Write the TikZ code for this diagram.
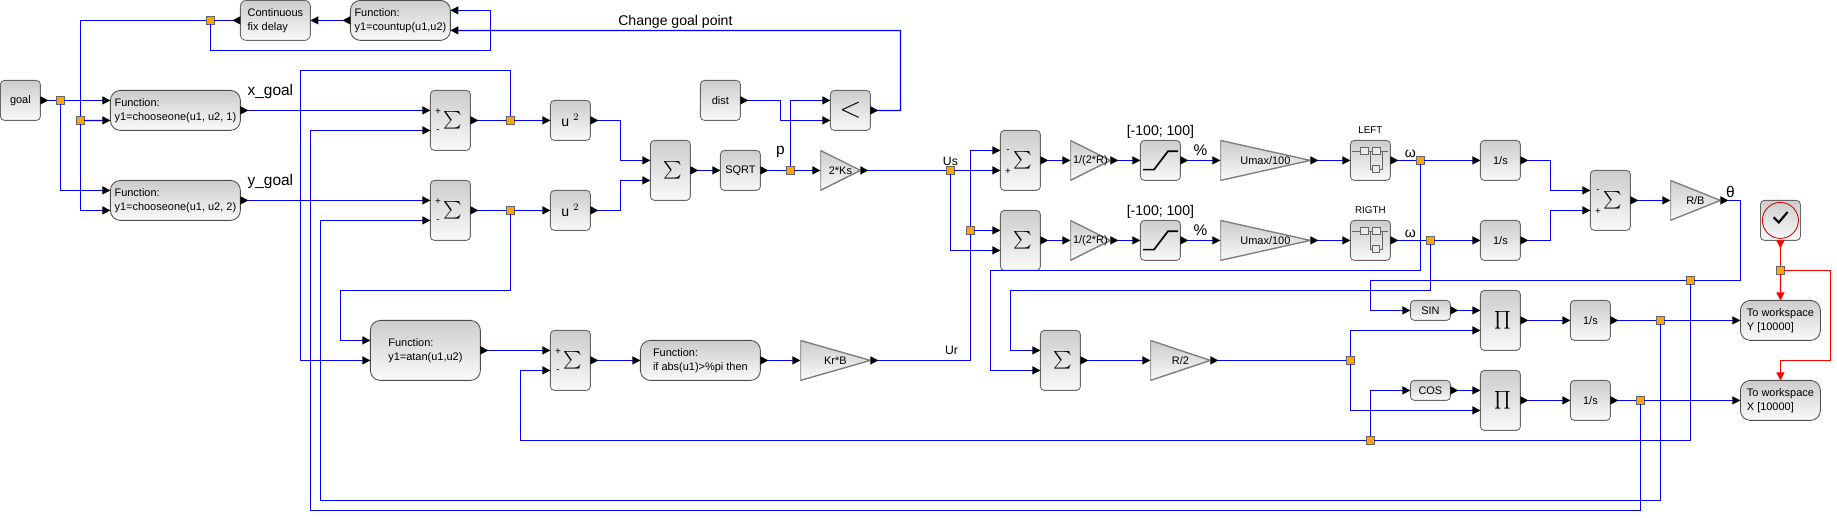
\documentclass[tikz,border=0pt]{standalone}
\usepackage{fontspec}
\setmainfont{Liberation Sans}
\usepackage{tikz}
\usetikzlibrary{arrows.meta, positioning, calc}
\definecolor{splitfill}{HTML}{FFA500}
\newcommand{\sumsign}{\,\scalebox{1.25}{$\sum$}}
\newcommand{\prodsign}{\,\scalebox{1.25}{$\prod$}}

\begin{document}
\begin{tikzpicture}[
    block/.style={rectangle, draw=black!60, line width=0.6pt, rounded corners=1mm, top color=black!20, bottom color=black!2, minimum width=1cm, minimum height=1cm, inner sep=0pt, outer sep=0pt, align=center, font=\fontsize{7.8}{10}\selectfont},
    func/.style={block, draw=black!70, rounded corners=2.5mm, minimum width=#1, align=left},
    tall/.style={block, minimum height=1.5cm, font=\LARGE},
    thin/.style={block, minimum height=0.5cm},
    gain/.style={rectangle, minimum width=#1, minimum height=1cm, inner sep=0pt, outer sep=0pt, font=\fontsize{7.8}{10}\selectfont,
        path picture={
            \shade[top color=black!20, bottom color=black!2] (path picture bounding box.north west) -- (path picture bounding box.east) -- (path picture bounding box.south west) -- cycle;
            \draw[black!50, line width=1pt] (path picture bounding box.north west) -- (path picture bounding box.east) -- (path picture bounding box.south west) -- cycle;
        }},
    satblock/.style={block,
        path picture={
            \draw[black, line width=1.2pt, sharp corners] ([shift={(-0.43,-0.23)}]path picture bounding box.center) -- ++(0.27,0) -- ++(0.35,0.46) -- ++(0.25,0);
        }},
    motorblock/.style={block,
        path picture={
            \draw[black!60, line width=0.5pt, sharp corners] ([shift={(-0.45,0.23)}]path picture bounding box.center) -- ++(0.89,0);
            \draw[black!60, line width=0.5pt, sharp corners] ([shift={(0,0.23)}]path picture bounding box.center) -- ++(0,-0.45) -- ++(0.3,0) -- ++(0,0.45);
            \draw[black!60, line width=0.5pt, fill=black!8, sharp corners] ([shift={(-0.24,0.14)}]path picture bounding box.center) rectangle ++(0.18,0.18);
            \draw[black!60, line width=0.5pt, fill=black!8, sharp corners] ([shift={(0.06,0.14)}]path picture bounding box.center) rectangle ++(0.18,0.18);
            \draw[black!60, line width=0.5pt, fill=black!8, sharp corners] ([shift={(0.05,-0.31)}]path picture bounding box.center) rectangle ++(0.18,0.18);
        }},
    clockblock/.style={block,
        path picture={
            \draw[red!85!black, line width=0.6pt] (path picture bounding box.center) circle (0.45cm);
            \draw[black, line width=1.5pt, sharp corners] ([shift={(-0.17,0.08)}]path picture bounding box.center) -- ++(0.13,-0.13) -- ++(0.22,0.26);
        }},
    split/.style={rectangle, draw=black!60, fill=splitfill, line width=0.5pt, minimum size=0.2cm, inner sep=0pt, outer sep=0pt},
    tag/.style={inner sep=0pt, font=\fontsize{10}{12}\selectfont},
    smalltag/.style={inner sep=0pt, font=\fontsize{7}{9}\selectfont},
    sign/.style={inner sep=0pt, font=\fontsize{7}{8}\selectfont},
    wire/.style={blue, line width=0.85pt},
    linkout/.style={wire, {Triangle[reversed, black, length=2mm, width=2mm]}-},
    linkin/.style={wire, -{Triangle[black, length=2mm, width=2mm]}},
    link/.style={wire, {Triangle[reversed, black, length=2mm, width=2mm]}-{Triangle[black, length=2mm, width=2mm]}},
    event/.style={red, line width=0.85pt},
    eventin/.style={event, -{Triangle[red, length=2mm, width=2mm]}},
    eventout/.style={event, {Triangle[reversed, red, length=2mm, width=2mm]}-}
]
    \useasboundingbox (-0.01,0.01) rectangle (45.915,-12.915);

    % Goal selection
    \node[block] (goal) at (0.5,-2.5) {goal};
    \node[func=3.25cm, right=1.75cm of goal, yshift=-2.5mm] (fnx) {Function:\\y1=chooseone(u1, u2, 1)};
    \node[func=3.25cm, below=1.25cm of fnx] (fny) {Function:\\y1=chooseone(u1, u2, 2)};
    \node[func=2.5cm] (countup) at (10,-0.5) {Function:\\y1=countup(u1,u2)};
    \node[block, rounded corners=1.5mm, align=left, minimum width=1.75cm, left=1cm of countup] (delay) {Continuous\\fix delay};

    % Distance branch
    \node[tall, right=4.75cm of fnx, yshift=-2.5mm] (sumx) {\sumsign};
    \node[tall, below=0.75cm of sumx] (sumy) {\sumsign};
    \node[block, font=\fontsize{10}{12}\selectfont, right=2cm of sumx] (squx) {u $^{2}$};
    \node[block, font=\fontsize{10}{12}\selectfont, right=2cm of sumy] (squy) {u $^{2}$};
    \node[tall, right=1.5cm of squx, yshift=-1.25cm] (sumd) {\sumsign};
    \node[block, right=0.75cm of sumd] (sqrt) {SQRT};
    \node[gain=1cm, right=1.5cm of sqrt] (ks) {2*Ks};
    \node[block, above=0.75cm of sqrt, xshift=-5mm] (dist) {dist};
    \node[block, font=\huge, right=2.25cm of dist, yshift=-2.5mm] (less) {$<$};

    % Heading branch
    \node[func=2.75cm, minimum height=1.5cm] (atan) at (10.625,-8.75) {Function:\\y1=atan(u1,u2)};
    \node[tall, right=1.75cm of atan, yshift=-2.5mm] (sume) {\sumsign};
    \node[func=3cm, right=1.25cm of sume] (ifpi) {Function:\\if abs(u1)>\%pi then};
    \node[gain=1.75cm, right=1cm of ifpi] (krb) {Kr*B};

    % Left and right wheels
    \node[tall, right=3.5cm of ks, yshift=2.5mm] (suml) {\sumsign};
    \node[tall, below=0.5cm of suml] (sumr) {\sumsign};
    \node[gain=1cm, right=0.75cm of suml] (gainl) {1/(2*R)};
    \node[gain=1cm, right=0.75cm of sumr] (gainr) {1/(2*R)};
    \node[satblock, right=0.75cm of gainl] (satl) {};
    \node[satblock, right=0.75cm of gainr] (satr) {};
    \node[gain=2.25cm, right=1cm of satl] (umaxl) {Umax/100};
    \node[gain=2.25cm, right=1cm of satr] (umaxr) {Umax/100};
    \node[motorblock, right=1cm of umaxl] (motl) {};
    \node[motorblock, right=1cm of umaxr] (motr) {};
    \node[block, right=2.25cm of motl] (intl) {1/s};
    \node[block, right=2.25cm of motr] (intr) {1/s};
    \node[tall, right=1.75cm of intl, yshift=-1cm] (sumt) {\sumsign};
    \node[gain=1.25cm, right=1cm of sumt] (rb) {R/B};
    \node[clockblock, right=1cm of rb, yshift=-5mm] (clock) {};

    % Position
    \node[tall, right=4.25cm of krb] (sumv) {\sumsign};
    \node[gain=1.5cm, right=1.75cm of sumv] (rtwo) {R/2};
    \node[tall] (prody) at (37.5,-8) {\prodsign};
    \node[tall, below=0.5cm of prody] (prodx) {\prodsign};
    \node[thin, left=0.75cm of prody, yshift=2.5mm] (sin) {SIN};
    \node[thin, left=0.75cm of prodx, yshift=2.5mm] (cos) {COS};
    \node[block, right=1.25cm of prody] (inty) {1/s};
    \node[block, right=1.25cm of prodx] (intx) {1/s};
    \node[func=2cm, right=3.25cm of inty] (wsy) {To workspace\\Y [10000]};
    \node[func=2cm, right=3.25cm of intx] (wsx) {To workspace\\X [10000]};

    % Splits
    \node[split, right=0.4cm of goal] (spgoal) {};
    \node[split, right=0.3cm of spgoal, yshift=-5mm] (spfn) {};
    \node[split, left=0.65cm of delay] (spdelay) {};
    \node[split, right=0.9cm of sumx] (spx) {};
    \node[split, right=0.9cm of sumy] (spy) {};
    \node[split, right=0.65cm of sqrt] (spp) {};
    \node[split, right=2.15cm of ks] (spus) {};
    \node[split, left=0.65cm of sumr, yshift=2.5mm] (spur) {};
    \node[split, right=0.65cm of motl] (spl) {};
    \node[split, right=0.9cm of motr] (spr) {};
    \node[split, right=3.4cm of rtwo] (spv) {};
    \node[split] (spth) at (42.25,-7) {};
    \node[split] (spthb) at (34.25,-11) {};
    \node[split, right=1.15cm of inty] (spoy) {};
    \node[split, right=0.65cm of intx] (spox) {};
    \node[split, below=0.65cm of clock] (spck) {};

    % Signs
    \node[sign] (sxp) at ([shift={(-0.31,0.23)}]sumx) {+};
    \node[sign] (sxm) at ([shift={(-0.31,-0.27)}]sumx) {-};
    \node[sign] (syp) at ([shift={(-0.31,0.23)}]sumy) {+};
    \node[sign] (sym) at ([shift={(-0.31,-0.27)}]sumy) {-};
    \node[sign] (sep) at ([shift={(-0.31,0.23)}]sume) {+};
    \node[sign] (sem) at ([shift={(-0.31,-0.27)}]sume) {-};
    \node[sign] (slm) at ([shift={(-0.31,0.23)}]suml) {-};
    \node[sign] (slp) at ([shift={(-0.31,-0.27)}]suml) {+};
    \node[sign] (stm) at ([shift={(-0.31,0.23)}]sumt) {-};
    \node[sign] (stp) at ([shift={(-0.31,-0.27)}]sumt) {+};

    % Labels
    \node[tag, font=\fontsize{11}{13}\selectfont] (lx) at (6.75,-2.28) {x\_goal};
    \node[tag, font=\fontsize{11}{13}\selectfont] (ly) at (6.75,-4.53) {y\_goal};
    \node[tag] (lchange) at (16.875,-0.53) {Change goal point};
    \node[tag, font=\fontsize{11}{13}\selectfont] (lp) at (19.5,-3.8) {p};
    \node[tag, font=\fontsize{8.7}{10}\selectfont] (lus) at (23.75,-4.02) {Us};
    \node[tag, font=\fontsize{8.7}{10}\selectfont] (lur) at (23.78,-8.75) {Ur};
    \node[tag] (lsatl) at (29,-3.29) {[-100; 100]};
    \node[tag] (lsatr) at (29,-5.28) {[-100; 100]};
    \node[tag, font=\fontsize{11}{13}\selectfont] (lpcl) at (30,-3.75) {\%};
    \node[tag, font=\fontsize{11}{13}\selectfont] (lpcr) at (30,-5.75) {\%};
    \node[smalltag] (lleft) at (34.25,-3.25) {LEFT};
    \node[smalltag] (lright) at (34.25,-5.25) {RIGTH};
    \node[tag] (lwl) at (35.25,-3.83) {ω};
    \node[tag] (lwr) at (35.25,-5.83) {ω};
    \node[tag, font=\fontsize{11}{13}\selectfont] (lth) at (43.25,-4.8) {θ};

    % Goal wires
    \draw[linkout] (goal) -- (spgoal);
    \draw[linkin] (spgoal) -- ([yshift=2.5mm]fnx.west);
    \draw[linkin] (spgoal) |- ([yshift=2.5mm]fny.west);
    \draw[linkin] (spfn) -- ([yshift=-2.5mm]fnx.west);
    \draw[linkin] (spdelay) -| (spfn) |- ([yshift=-2.5mm]fny.west);
    \draw[link] (countup) -- (delay);
    \draw[linkout] (delay) -- (spdelay);
    \draw[linkin] (spdelay) |- (12.25,-1.25) |- ([yshift=2.5mm]countup.east);
    \draw[link] (less.east) -| (22.5,-0.75) -- ([yshift=-2.5mm]countup.east);
    \draw[link] (fnx.east) -- ([yshift=2.5mm]sumx.west);
    \draw[link] (fny.east) -- ([yshift=2.5mm]sumy.west);

    % Distance wires
    \draw[linkout] (sumx) -- (spx);
    \draw[linkin] (spx) -- (squx);
    \draw[linkout] (sumy) -- (spy);
    \draw[linkin] (spy) -- (squy);
    \draw[link] (squx.east) -- ++(0.75,0) |- ([yshift=2.5mm]sumd.west);
    \draw[link] (squy.east) -- ++(0.75,0) |- ([yshift=-2.5mm]sumd.west);
    \draw[link] (sumd) -- (sqrt);
    \draw[linkout] (sqrt) -- (spp);
    \draw[linkin] (spp) -- (ks);
    \draw[linkin] (spp) |- ([yshift=2.5mm]less.west);
    \draw[link] (dist.east) -- ++(1,0) |- ([yshift=-2.5mm]less.west);
    \draw[linkout] (ks.east) -- (spus);
    \draw[linkin] (spus) -- ([yshift=-2.5mm]suml.west);
    \draw[linkin] (spus) |- ([yshift=-2.5mm]sumr.west);

    % Heading wires
    \draw[linkin] (spx) |- (7.5,-1.75) |- ([yshift=-2.5mm]atan.west);
    \draw[linkin] (spy) |- (8.5,-7.25) |- ([yshift=2.5mm]atan.west);
    \draw[link] (atan.east) -- ([yshift=2.5mm]sume.west);
    \draw[link] (sume) -- (ifpi);
    \draw[link] (ifpi) -- (krb);
    \draw[linkout] (krb.east) -| (spur);
    \draw[linkin] (spur) |- ([yshift=2.5mm]suml.west);
    \draw[linkin] (spur) -- ([yshift=2.5mm]sumr.west);

    % Wheel wires
    \draw[link] (suml) -- (gainl);
    \draw[link] (sumr) -- (gainr);
    \draw[link] (gainl) -- (satl);
    \draw[link] (gainr) -- (satr);
    \draw[link] (satl) -- (umaxl);
    \draw[link] (satr) -- (umaxr);
    \draw[link] (umaxl) -- (motl);
    \draw[link] (umaxr) -- (motr);
    \draw[linkout] (motl) -- (spl);
    \draw[linkout] (motr) -- (spr);
    \draw[linkin] (spl) -- (intl);
    \draw[linkin] (spr) -- (intr);
    \draw[link] (intl.east) -- ++(0.75,0) |- ([yshift=2.5mm]sumt.west);
    \draw[link] (intr.east) -- ++(0.75,0) |- ([yshift=-2.5mm]sumt.west);
    \draw[link] (sumt) -- (rb);
    \draw[linkout] (rb.east) -- ++(0.5,0) |- (spth);
    \draw[linkin] (spth) -- (34.25,-7) |- (sin.west);
    \draw[wire] (spth) |- (spthb);
    \draw[linkin] (spthb) |- (cos.west);
    \draw[linkin] (spthb) -- (13,-11) |- ([yshift=-2.5mm]sume.west);

    % Position wires
    \draw[linkin] (spl) |- (24.75,-6.75) |- ([yshift=-2.5mm]sumv.west);
    \draw[linkin] (spr) |- (25.25,-7.25) |- ([yshift=2.5mm]sumv.west);
    \draw[link] (sumv) -- (rtwo);
    \draw[linkout] (rtwo) -- (spv);
    \draw[linkin] (spv) |- ([yshift=-2.5mm]prody.west);
    \draw[linkin] (spv) |- ([yshift=-2.5mm]prodx.west);
    \draw[link] (sin) -- ([yshift=2.5mm]prody.west);
    \draw[link] (cos) -- ([yshift=2.5mm]prodx.west);
    \draw[link] (prody) -- (inty);
    \draw[link] (prodx) -- (intx);
    \draw[linkout] (inty) -- (spoy);
    \draw[linkout] (intx) -- (spox);
    \draw[linkin] (spoy) -- (wsy);
    \draw[linkin] (spox) -- (wsx);
    \draw[linkin] (spoy) |- (8,-12.5) |- ([yshift=-2.5mm]sumy.west);
    \draw[linkin] (spox) |- (7.75,-12.75) |- ([yshift=-2.5mm]sumx.west);

    % Clock
    \draw[eventout] (clock) -- (spck);
    \draw[eventin] (spck) -- (wsy);
    \draw[eventin] (spck) -| (45.75,-9) -| (wsx.north);
\end{tikzpicture}
\end{document}
